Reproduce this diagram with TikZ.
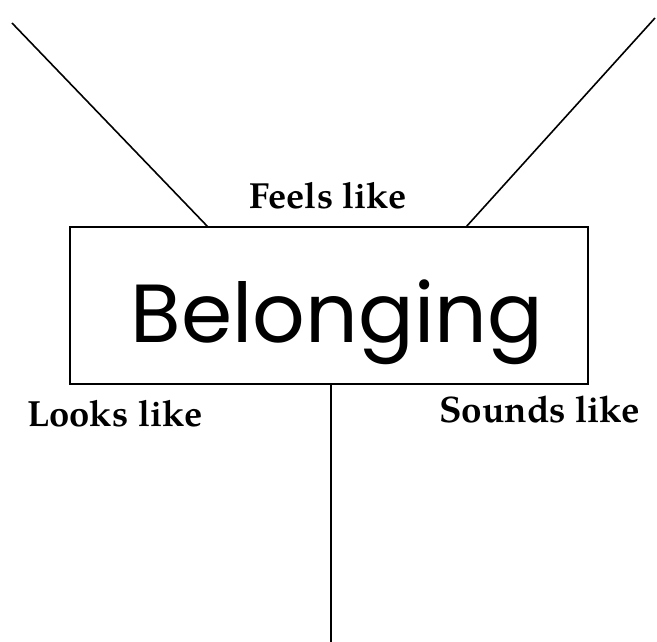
\documentclass[tikz,border=0pt]{standalone}
\usepackage{fontspec}
\setmainfont{TeX Gyre Pagella}
\newfontfamily\handfont{Poppins}
\usetikzlibrary{calc}
\tikzset{
  ln/.style={line width=1.6pt, black},
  lbl/.style={inner sep=0pt, font=\bfseries, anchor=base west},
}
\begin{document}
\begin{tikzpicture}[x=1pt,y=-1pt]
\useasboundingbox (0,0) rectangle (657,642);
\node[draw, ln, minimum width=518pt, minimum height=157pt, inner sep=0pt] (box) at (329,305.5) {};
\node[inner sep=0pt, anchor=base] (word) at (337,342) {\resizebox{412pt}{!}{\handfont Belonging}};
\coordinate (tl) at (12,23);
\coordinate (tr) at (655,18);
\coordinate (bl) at (208,227);
\coordinate (br) at (466,227);
\coordinate (bot) at (331,642);
\draw[ln] (tl) -- (bl);
\draw[ln] (br) -- (tr);
\draw[ln] (box.south -| bot) -- (bot);
\node[lbl] (feels) at (249,208) {\resizebox{157pt}{!}{Feels like}};
\node[lbl] (looks) at (27,426) {\resizebox{175pt}{!}{Looks like}};
\node[lbl] (sounds) at (439,422) {\resizebox{201pt}{!}{Sounds like}};
\end{tikzpicture}
\end{document}
